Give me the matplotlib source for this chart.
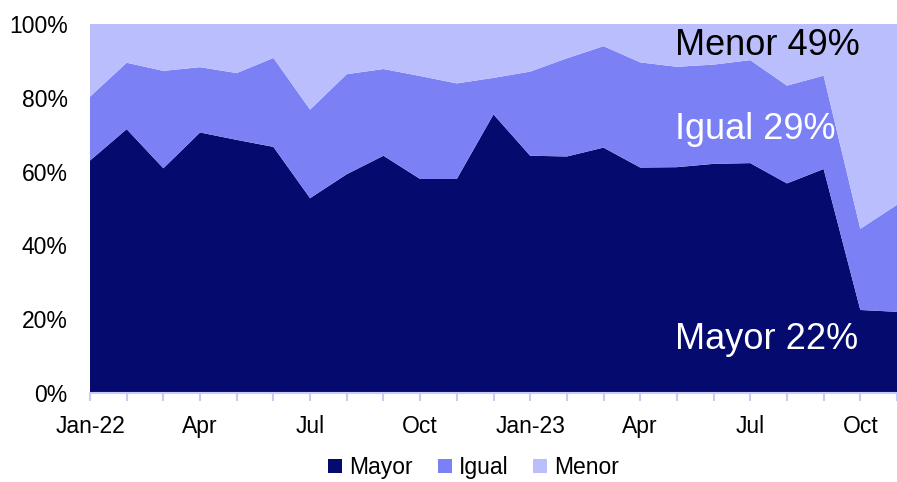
import numpy as np
import matplotlib
matplotlib.use('Agg')
from matplotlib import pyplot as plt
from matplotlib.patches import Patch

plt.rcParams['font.family'] = ['Liberation Sans', 'DejaVu Sans']

# monthly survey shares, Jan-22 .. Nov-23 (%)
months = ['Jan-22', 'Feb', 'Mar', 'Apr', 'May', 'Jun', 'Jul', 'Aug', 'Sep', 'Oct', 'Nov', 'Dec',
          'Jan-23', 'Feb', 'Mar', 'Apr', 'May', 'Jun', 'Jul', 'Aug', 'Sep', 'Oct', 'Nov']
mayor = [63.0, 71.5, 60.9, 70.6, 68.6, 66.7, 52.8, 59.3, 64.3, 58.0, 58.0, 75.5,
         64.3, 64.1, 66.5, 61.1, 61.2, 62.1, 62.3, 56.8, 60.7, 22.5, 22.0]
igual = [17.3, 18.0, 26.4, 17.7, 18.1, 24.1, 24.0, 27.1, 23.5, 27.9, 25.9, 9.9,
         22.8, 26.6, 27.5, 28.5, 27.2, 26.9, 27.9, 26.5, 25.3, 22.0, 29.0]
menor = [100 - a - b for a, b in zip(mayor, igual)]
series_names = ['Mayor', 'Igual', 'Menor']
colors = ['#050a6e', '#7b80f5', '#bbbefc']
tick_labels = ['Jan-22', 'Apr', 'Jul', 'Oct', 'Jan-23', 'Apr', 'Jul', 'Oct']

x = np.arange(len(months))

fig = plt.figure(figsize=(8.97, 4.82), dpi=100)
ax = fig.add_axes([90/897, 1-393/482, 1-90/897, (393-24)/482])
ax.stackplot(x, mayor, igual, menor, colors=colors, linewidth=0)

ax.set_xlim(0, 21.85)
ax.set_ylim(0, 100)
ax.set_yticks(np.arange(0, 101, 20))
ax.set_yticklabels(['{}%'.format(v) for v in range(0, 101, 20)])
ax.set_xticks(x[::3])
ax.set_xticklabels(tick_labels)
ax.set_xticks(x, minor=True)
ax.tick_params(axis='y', length=0, pad=16, labelsize=16.5)
ax.tick_params(axis='x', which='both', length=6, color='#c8caf8', width=1.5, pad=10, labelsize=16.5)
for s in ['top', 'right', 'left']:
    ax.spines[s].set_visible(False)
ax.spines['bottom'].set_color('#c8caf8')
ax.spines['bottom'].set_linewidth(1.5)

# end labels
ax.text(15.95, 94.3, 'Menor {:.0f}%'.format(menor[-1]), color='black', fontsize=26, va='center', ha='left')
ax.text(15.95, 71.3, 'Igual {:.0f}%'.format(igual[-1]), color='white', fontsize=26, va='center', ha='left')
ax.text(15.95, 14.4, 'Mayor {:.0f}%'.format(mayor[-1]), color='white', fontsize=26, va='center', ha='left')

handles = [Patch(facecolor=c, edgecolor='none') for c in colors]
fig.legend(handles, series_names, loc='center', bbox_to_anchor=(0.528, 0.03), ncol=3, frameon=False,
           fontsize=16.5, handlelength=0.6, handleheight=0.6, handletextpad=0.3, columnspacing=1.1,
           borderpad=0.1)

plt.savefig('out.png', dpi=100)
